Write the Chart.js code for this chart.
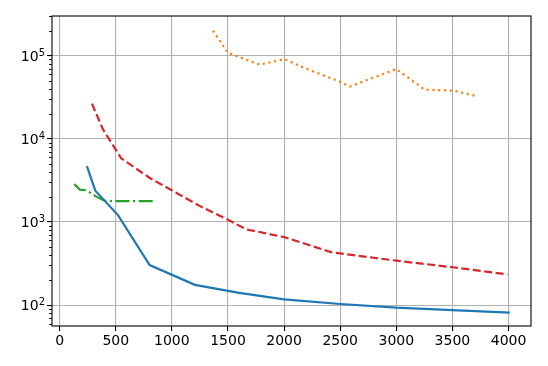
<!DOCTYPE html>
<html>
<head>
<meta charset="utf-8">
<script src="https://cdn.jsdelivr.net/npm/chart.js@4"></script>
<style>
  html, body { margin: 0; padding: 0; background: #fff; }
  #wrap { width: 548px; height: 366px; }
</style>
</head>
<body>
<div id="wrap"><canvas id="chart"></canvas></div>
<script>
// values
var blueX = [243, 318, 520, 802, 1205, 1600, 2000, 2500, 3000, 3500, 4010];
var blueY = [4700, 2380, 1210, 303, 175, 140, 117, 103, 93, 87, 81];

var orangeX = [1366, 1500, 1783, 2005, 2170, 2490, 2585, 3000, 3253, 3505, 3698];
var orangeY = [200000, 108000, 78000, 91000, 72000, 49000, 42500, 69000, 39000, 38000, 33000];

var greenX = [130, 180, 240, 330, 400, 500, 830];
var greenY = [2850, 2450, 2400, 2000, 1800, 1780, 1780];

var redX = [288, 386, 550, 800, 1247, 1500, 1663, 2005, 2420, 3000, 3500, 3990];
var redY = [26500, 13000, 5800, 3400, 1560, 1060, 815, 655, 432, 342, 285, 234];

var xTicks = [0, 500, 1000, 1500, 2000, 2500, 3000, 3500, 4000];
var yTicks = [100, 1000, 10000, 100000];

function pts(xs, ys) {
  return xs.map(function (x, i) { return {x: x, y: ys[i]}; });
}

// frame round the plot, minor log ticks and 10^n labels
var frame = {
  id: 'frame',
  afterDraw: function (chart) {
    var c = chart.ctx, a = chart.chartArea, y = chart.scales.y;
    c.save();
    c.strokeStyle = '#000';
    c.lineWidth = 1.1;
    c.strokeRect(a.left, a.top, a.right - a.left, a.bottom - a.top);
    c.lineWidth = 0.9;
    for (var e = 1; e <= 5; e++) {
      for (var m = 2; m <= 9; m++) {
        var v = m * Math.pow(10, e);
        if (v < y.min || v > y.max) continue;
        var py = Math.round(y.getPixelForValue(v)) + 0.5;
        c.beginPath();
        c.moveTo(a.left - 3, py);
        c.lineTo(a.left, py);
        c.stroke();
      }
    }
    c.fillStyle = '#000';
    c.textBaseline = 'alphabetic';
    yTicks.forEach(function (v) {
      var py = y.getPixelForValue(v);
      var ex = String(Math.round(Math.log10(v)));
      c.font = '10px "DejaVu Sans"';
      var ew = c.measureText(ex).width;
      c.textAlign = 'right';
      c.fillText(ex, a.left - 7, py + 0);
      c.font = '14px "DejaVu Sans"';
      c.fillText('10', a.left - 7 - ew, py + 5);
    });
    c.restore();
  }
};

var ctx = document.getElementById('chart').getContext('2d');

new Chart(ctx, {
  type: 'line',
  data: {
    datasets: [
      { data: pts(blueX, blueY), borderColor: '#1f77b4', borderWidth: 2.2 },
      { data: pts(orangeX, orangeY), borderColor: '#ff7f0e', borderWidth: 2.2, borderDash: [2.2, 3.6] },
      { data: pts(greenX, greenY), borderColor: '#2ca02c', borderWidth: 2.2, borderDash: [14, 3.5, 2.2, 3.5] },
      { data: pts(redX, redY), borderColor: '#d62728', borderWidth: 2.2, borderDash: [8, 3.5] }
    ]
  },
  options: {
    responsive: true,
    maintainAspectRatio: false,
    animation: false,
    layout: { padding: { left: 0, right: 17, top: 16, bottom: 0 } },
    elements: { point: { radius: 0 }, line: { tension: 0, borderCapStyle: 'butt' } },
    plugins: { legend: { display: false }, tooltip: { enabled: false } },
    scales: {
      x: {
        type: 'linear',
        min: -68,
        max: 4200,
        afterBuildTicks: function (s) { s.ticks = xTicks.map(function (v) { return {value: v}; }); },
        afterFit: function (s) { s.height = 40; },
        grid: { color: '#b0b0b0', lineWidth: 1.1, tickColor: '#000', tickLength: 5 },
        border: { display: false },
        ticks: {
          color: '#000', padding: 2, maxRotation: 0, font: { family: 'DejaVu Sans', size: 14 },
          callback: function (v) { return String(v); }
        }
      },
      y: {
        type: 'logarithmic',
        min: 56,
        max: 300000,
        afterBuildTicks: function (s) { s.ticks = yTicks.map(function (v) { return {value: v}; }); },
        afterFit: function (s) { s.width = 52; },
        grid: { color: '#b0b0b0', lineWidth: 1.1, tickColor: '#000', tickLength: 5 },
        border: { display: false },
        ticks: { display: false }
      }
    }
  },
  plugins: [frame]
});
</script>
</body>
</html>
